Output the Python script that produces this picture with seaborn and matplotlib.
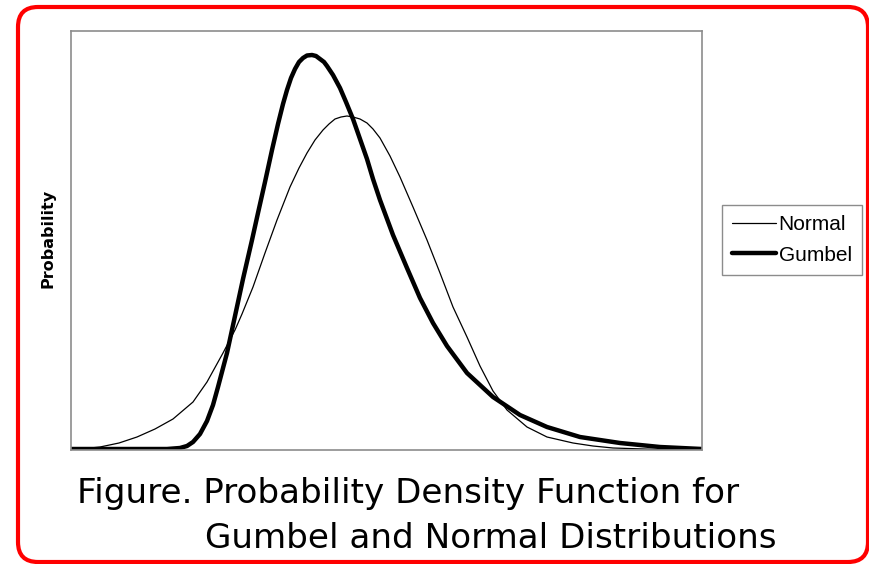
import seaborn as sns
import matplotlib.pyplot as plt
import pandas as pd
from matplotlib.patches import FancyBboxPatch

# curves (x = horizontal position, y = height above baseline)
gumbel_x = [0, 59, 96, 109, 116, 122, 129, 136, 142, 147, 156, 164, 172, 181, 187, 194, 201, 207,
            212, 216, 220, 224, 228, 232, 236, 241, 245, 249, 253, 256, 262, 269, 275, 282, 289,
            296, 302, 309, 322, 336, 349, 362, 376, 396, 422, 449, 476, 509, 549, 589, 631]
gumbel_y = [1, 1, 1, 2, 4, 8, 16, 29, 45, 63, 97, 134, 171, 210, 237, 268, 300, 326,
            346, 360, 372, 381, 388, 392, 394.5, 395, 394, 391, 388, 384, 375, 362, 348, 331, 311,
            291, 271, 250, 215, 182, 152, 127, 104, 77, 53, 35, 23, 13, 7, 3, 1]

normal_x = [0, 29, 48, 66, 84, 102, 122, 136, 152, 164, 171, 182, 194, 206, 219, 228, 236, 244,
            252, 258, 264, 270, 276, 282, 289, 296, 302, 309, 319, 329, 342, 356, 369, 382, 396,
            409, 422, 436, 456, 476, 502, 522, 542, 589, 631]
normal_y = [0, 3, 7, 13, 21, 31, 48, 68, 97, 120, 136, 163, 197, 230, 263, 282, 297, 310,
            320, 326, 331, 333, 334, 333, 331, 327, 321, 312, 294, 273, 243, 210, 177, 143, 113,
            84, 59, 40, 23, 13, 7, 4, 2, 0.5, 0]

normal = pd.DataFrame({"x": normal_x, "y": normal_y})
gumbel = pd.DataFrame({"x": gumbel_x, "y": gumbel_y})

sns.set_style("white")
plt.rcParams["font.family"] = ["Liberation Sans", "DejaVu Sans"]
plt.rcParams["text.color"] = "black"

fig = plt.figure(figsize=(8.7, 5.64), dpi=100)
ax = fig.add_axes([71 / 870, 114 / 564, 631 / 870, 419 / 564])

sns.lineplot(data=normal, x="x", y="y", color="black", linewidth=0.9, sort=False,
             estimator=None, label="Normal", ax=ax)
sns.lineplot(data=gumbel, x="x", y="y", color="black", linewidth=3.2, sort=False,
             estimator=None, label="Gumbel", ax=ax)

ax.set_xlim(0, 631)
ax.set_ylim(0, 419)
ax.set_xticks([])
ax.set_yticks([])
ax.set_xlabel("")
ax.set_ylabel("Probability", fontsize=11.5, fontweight="bold", family="DejaVu Sans",
              color="black")
ax.yaxis.set_label_coords(-0.025, 0.506)
for s in ax.spines.values():
    s.set_color("#8c8c8c")
    s.set_linewidth(1.2)

leg = ax.legend(loc="lower left", bbox_to_anchor=(722 / 870, 289 / 564),
                bbox_transform=fig.transFigure, borderaxespad=0, fancybox=False,
                frameon=True, fontsize=15, handlelength=2.1, handletextpad=0.12,
                labelspacing=0.55, borderpad=0.5)
leg.get_frame().set_edgecolor("#8c8c8c")
leg.get_frame().set_linewidth(1.0)
leg.get_frame().set_alpha(1)
for t in leg.get_texts():
    t.set_color("black")

# caption
fig.text(77 / 870, 61 / 564, "Figure. Probability Density Function for", fontsize=24.6,
         family="DejaVu Sans", va="baseline", ha="left", color="black")
fig.text(205 / 870, 16 / 564, "Gumbel and Normal Distributions", fontsize=24.6,
         family="DejaVu Sans", va="baseline", ha="left", color="black")

# red rounded frame
frame = FancyBboxPatch((0.18, 0.02), 8.5, 5.55, boxstyle="round,pad=0,rounding_size=0.2",
                       transform=fig.dpi_scale_trans, facecolor="none", edgecolor="red",
                       linewidth=3)
fig.add_artist(frame)

plt.savefig("out.png", dpi=100)
